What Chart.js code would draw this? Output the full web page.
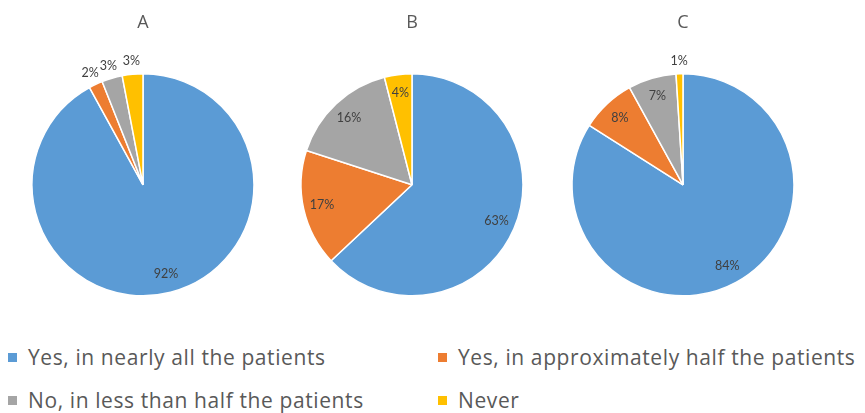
<!doctype html>
<html><head><meta charset="utf-8">
<script src="https://cdn.jsdelivr.net/npm/chart.js@4.4.0/dist/chart.umd.min.js"></script>
<style>
  body{margin:0;background:#fff;width:865px;height:413px;position:relative;overflow:hidden;font-family:"Open Sans",Lato,sans-serif}
  .pie{position:absolute;top:0;width:260px;height:310px}
  .legend{position:absolute;left:0;top:0;width:865px}
  .item{position:absolute;display:flex;align-items:center;color:#595959;font-size:21px;letter-spacing:0.6px;white-space:nowrap}
  .item i{display:inline-block;width:9px;height:9px;margin-right:11px}
</style></head><body>
<div class="pie" style="left:13px"><canvas id="pA"></canvas></div>
<div class="pie" style="left:282px"><canvas id="pB"></canvas></div>
<div class="pie" style="left:553px"><canvas id="pC"></canvas></div>
<div class="legend" id="legend"></div>
<script>
// answer categories, shared by the three groups
const categories = [
  'Yes, in nearly all the patients',
  'Yes, in approximately half the patients',
  'No, in less than half the patients',
  'Never'
];
const colors = ['#5b9bd5', '#ed7d31', '#a5a5a5', '#ffc000'];

const titles = ['A', 'B', 'C'];
const valuesA = [92, 2, 3, 3];
const valuesB = [63, 17, 16, 4];
const valuesC = [84, 8, 7, 1];

// percent labels: inside the slice, or just outside the rim when the slice is tiny
const pctLabels = {
  id: 'pctLabels',
  afterDatasetsDraw(chart) {
    const ctx = chart.ctx;
    const meta = chart.getDatasetMeta(0);
    const data = chart.data.datasets[0].data;
    ctx.save();
    ctx.font = '12.5px Lato, "Open Sans", sans-serif';
    ctx.fillStyle = '#404040';
    ctx.textAlign = 'center';
    ctx.textBaseline = 'middle';
    meta.data.forEach((arc, i) => {
      const { x, y, startAngle, endAngle, outerRadius } = arc.getProps(['x', 'y', 'startAngle', 'endAngle', 'outerRadius'], true);
      const mid = (startAngle + endAngle) / 2;
      const r = data[i] < 4 ? outerRadius + 13 : outerRadius * 0.83;
      ctx.fillText(data[i] + '%', x + Math.cos(mid) * r, y + Math.sin(mid) * r);
    });
    ctx.restore();
  }
};

function makePie(id, title, values) {
  return new Chart(document.getElementById(id), {
    type: 'pie',
    data: {
      labels: categories,
      datasets: [{ data: values, backgroundColor: colors, borderColor: '#fff', borderWidth: 1.5 }]
    },
    options: {
      responsive: true, maintainAspectRatio: false,
      animation: false,
      radius: 111,
      layout: { padding: { top: 0, bottom: 14 } },
      plugins: {
        legend: { display: false },
        tooltip: { enabled: false },
        title: {
          display: true, text: title, color: '#595959',
          font: { family: '"Open Sans", Lato, sans-serif', size: 18, weight: 'normal' },
          padding: { top: 12, bottom: 40 }
        }
      }
    },
    plugins: [pctLabels]
  });
}

makePie('pA', titles[0], valuesA);
makePie('pB', titles[1], valuesB);
makePie('pC', titles[2], valuesC);

// two-column legend under the pies
const legendPos = [[8, 358], [438, 358], [8, 401], [438, 401]];
const lg = document.getElementById('legend');
categories.forEach((name, i) => {
  const d = document.createElement('div');
  d.className = 'item';
  d.style.left = legendPos[i][0] + 'px';
  d.style.top = (legendPos[i][1] - 15) + 'px';
  d.innerHTML = `<i style="background:${colors[i]}"></i>${name}`;
  lg.appendChild(d);
});
</script>
</body></html>
